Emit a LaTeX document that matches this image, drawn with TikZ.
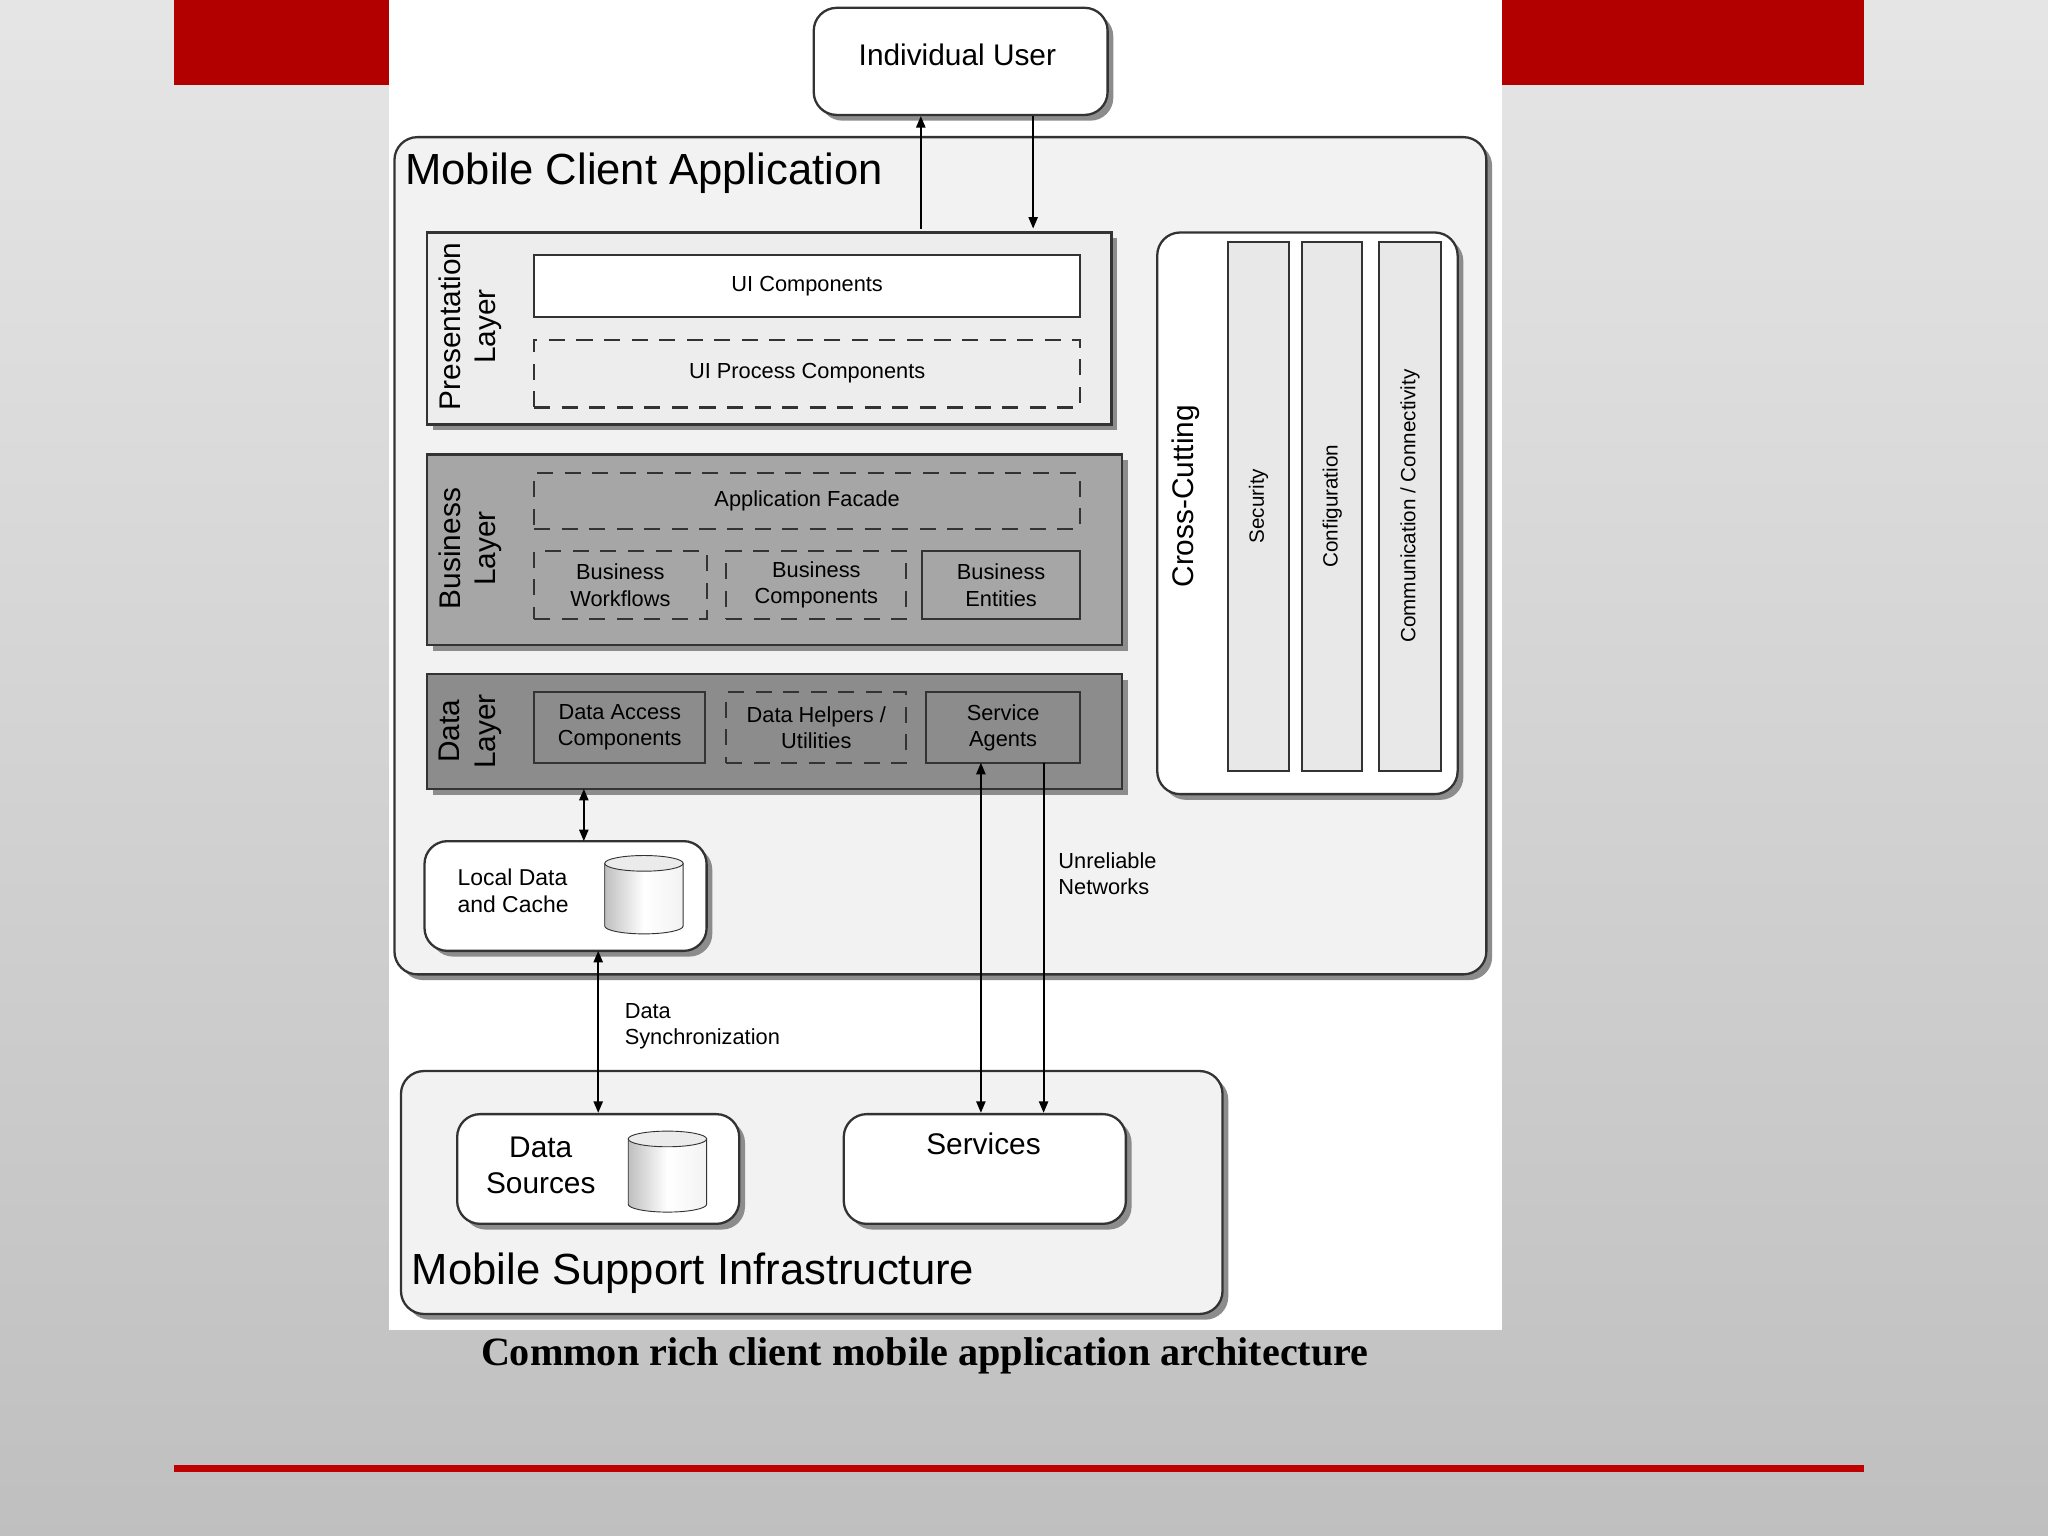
\documentclass[tikz,border=0pt]{standalone}
\usepackage{fontspec}
\setmainfont{Liberation Serif}
\setsansfont{Liberation Sans}
\usetikzlibrary{fit,shadows,arrows.meta}
\newcommand{\fs}[1]{\fontsize{#1pt}{\dimexpr #1pt*6/5\relax}\selectfont}
\tikzset{
 sh/.style={drop shadow={shadow xshift=2.5pt,shadow yshift=-2.5pt,fill=black!45,opacity=1}},
 rbox/.style={fit={#1},inner sep=0pt,draw=black!80,line width=1pt,rounded corners=10pt,sh},
 pbox/.style={fit={#1},inner sep=0pt,draw=black!80,line width=1pt,sh},
 ibox/.style={fit={#1},inner sep=0pt,draw=black!80,line width=0.9pt},
 dbox/.style={ibox={#1},dash pattern=on 7pt off 5pt},
 t/.style={label={[align=center,font=\sffamily\fs{9.5},inner sep=0pt]center:#1}},
 arr/.style={line width=0.8pt,-{Triangle[length=5pt,width=4pt]}},
 darr/.style={line width=0.8pt,{Triangle[length=5pt,width=4pt]}-{Triangle[length=5pt,width=4pt]}},
 lbl/.style={font=\sffamily\fs{9.5},align=left,anchor=west,inner sep=0pt},
}
\newcommand{\cyl}[4]{% x1 y1 x2 y2
 \shade[left color=black!25,right color=black!5,middle color=white,draw=black!80] (#1,#2+6) -- (#1,#4-6) arc[start angle=180,end angle=360,x radius={(#3-#1)/2*0.02cm},y radius=0.12cm] -- (#3,#2+6) -- cycle;
 \draw[fill=black!8,draw=black!80] ({(#1+#3)/2},#2+6) ellipse[x radius={(#3-#1)/2*0.02cm},y radius=0.12cm];}
\begin{document}
\begin{tikzpicture}[x=0.02cm,y=-0.02cm]
\shade[top color=black!10,bottom color=black!25] (0,0) rectangle (1568,1176);
\useasboundingbox (0,0) rectangle (1568,1176);
\fill[red!70!black] (133,0) rectangle (1427,65);
\fill[white] (298,0) rectangle (1150,1018);
\fill[red!75!black] (133,1122) rectangle (1427,1127);

\node[rbox={(623,6)(848,88)},fill=white] (user) {};
\node[font=\sffamily\fs{13},inner sep=0pt] (usert) at (733,42) {Individual User};

\node[rbox={(302,105)(1138,746)},fill=black!5] (mca) {};
\node[anchor=west,inner sep=0pt,font=\sffamily\fs{19}] (mcat) at (310,133) {Mobile Client Application};

\node[pbox={(327,178)(851,325)},fill=black!7] (pres) {};
\node[rotate=90,align=center,font=\sffamily\fs{13},inner sep=0pt] (prest) at (360,250) {Presentation\\Layer};
\node[ibox={(409,195)(827,243)},fill=white,t={UI Components}] (uic) {};
\node[dbox={(409,260)(827,312)},t={UI Process Components}] (uip) {};

\node[pbox={(327,348)(859,494)},fill=black!35] (bus) {};
\node[rotate=90,align=center,font=\sffamily\fs{13},inner sep=0pt] (bust) at (360,420) {Business\\Layer};
\node[dbox={(409,362)(827,405)},t={Application Facade}] (af) {};
\node[dbox={(409,422)(541,474)},t={Business\\Workflows}] (bw) {};
\node[dbox={(556,422)(694,474)},t={Business\\Components}] (bc) {};
\node[ibox={(706,422)(827,474)},t={Business\\Entities}] (be) {};

\node[pbox={(327,516)(859,604)},fill=black!45] (dat) {};
\node[rotate=90,align=center,font=\sffamily\fs{13},inner sep=0pt] (datt) at (360,560) {Data\\Layer};
\node[ibox={(409,530)(540,584)},t={Data Access\\Components}] (dac) {};
\node[dbox={(556,530)(694,584)},t={Data Helpers /\\Utilities}] (dh) {};
\node[ibox={(709,530)(827,584)},t={Service\\Agents}] (sa) {};

\node[rbox={(886,178)(1116,608)},fill=white] (cc) {};
\node[rotate=90,font=\sffamily\fs{13},inner sep=0pt] (cct) at (908,380) {Cross-Cutting};
\node[ibox={(940,185)(987,590)},fill=black!9] (sec) {};
\node[rotate=90,font=\sffamily\fs{9}] at (sec) {Security};
\node[ibox={(997,185)(1043,590)},fill=black!9] (conf) {};
\node[rotate=90,font=\sffamily\fs{9}] at (conf) {Configuration};
\node[ibox={(1056,185)(1103,590)},fill=black!9] (comm) {};
\node[rotate=90,font=\sffamily\fs{9}] at (comm) {Communication / Connectivity};

\node[rbox={(325,644)(541,728)},fill=white] (ldc) {};
\node[lbl,font=\sffamily\fs{10}] (ldct) at (350,682) {Local Data\\and Cache};
\cyl{463}{655}{523}{715}

\node[rbox={(307,820)(936,1006)},fill=black!5] (msi) {};
\node[anchor=west,inner sep=0pt,font=\sffamily\fs{19}] (msit) at (315,975) {Mobile Support Infrastructure};
\node[rbox={(350,853)(566,937)},fill=white] (ds) {};
\node[font=\sffamily\fs{13},align=center,inner sep=0pt] (dst) at (414,892) {Data\\Sources};
\cyl{481}{866}{541}{928}
\node[rbox={(646,853)(862,937)},fill=white] (srv) {};
\node[font=\sffamily\fs{13},inner sep=0pt] (srvt) at (753,876) {Services};

\coordinate (u1) at (705,175); \coordinate (u2) at (791,175);
\draw[arr] (u1) -- (u1 |- user.south);
\draw[arr] (u2 |- user.south) -- (u2);
\draw[darr] (447,604) -- (447,644);
\draw[darr] (458,728) -- (458,852);
\draw[darr] (751,584) -- (751,852);
\draw[arr] (799,584) -- (799,852);
\node[lbl] (un) at (810,669) {Unreliable\\Networks};
\node[lbl] (dsy) at (478,786) {Data\\Synchronization};

\node[font=\bfseries\fs{17.5}] (cap) at (708,1038) {Common rich client mobile application architecture};
\end{tikzpicture}
\end{document}
